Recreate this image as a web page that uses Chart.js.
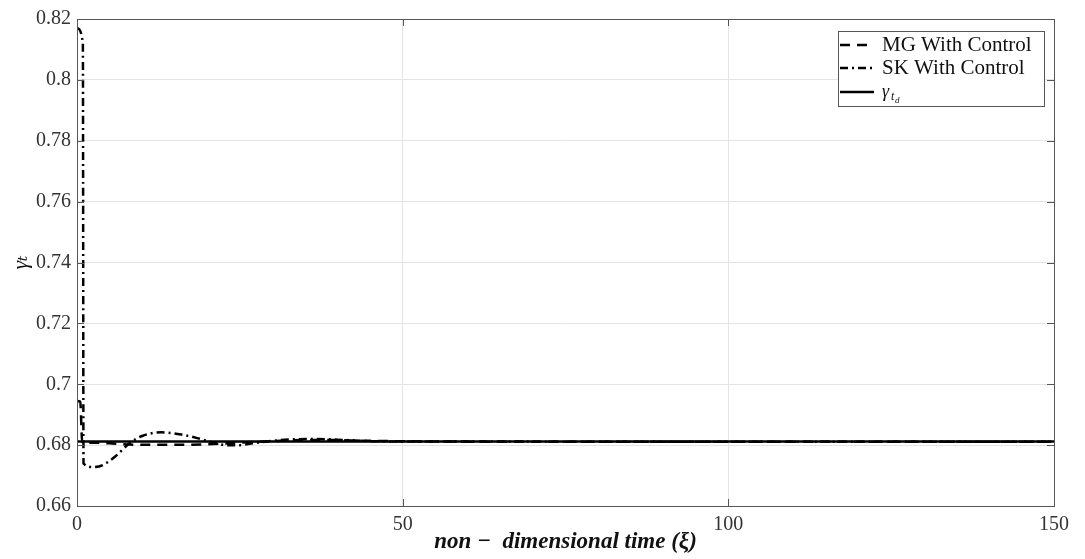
<!DOCTYPE html>
<html>
<head>
<meta charset="utf-8">
<script src="https://cdn.jsdelivr.net/npm/chart.js@4.4.1/dist/chart.umd.min.js"></script>
<style>
  html, body { margin: 0; padding: 0; background: #fff; }
  #wrap { width: 1085px; height: 559px; }
</style>
</head>
<body>
<div id="wrap"><canvas id="gammaChart" width="1085" height="559"></canvas></div>
<script>
// time samples (xi) and gamma_t response for each controller
const timeSK  = [0, 0.9, 1.0, 2.5, 4, 6, 8, 10, 13, 16, 19, 21, 23, 25, 27, 30, 33, 37, 41, 45, 50, 60, 80, 150];
const gammaSK = [0.817, 0.812, 0.674, 0.6728, 0.6735, 0.6765, 0.6805, 0.6830, 0.6842, 0.6835, 0.6820, 0.6808, 0.6800, 0.6800, 0.6806, 0.6814, 0.6819, 0.6820, 0.6817, 0.6813, 0.6812, 0.6812, 0.6811, 0.6811];

const timeMG  = [0, 0.5, 0.8, 2, 5, 8, 12, 16, 20, 24, 28, 33, 38, 45, 55, 80, 150];
const gammaMG = [0.6945, 0.6943, 0.6810, 0.6808, 0.6806, 0.6802, 0.6801, 0.6801, 0.6803, 0.6807, 0.6811, 0.6816, 0.6817, 0.6814, 0.6812, 0.6811, 0.6811];

// desired value gamma_td
const timeTarget  = [0, 150];
const gammaTarget = [0.6812, 0.6812];

const xTicks = [0, 50, 100, 150];
const yTicks = [0.66, 0.68, 0.7, 0.72, 0.74, 0.76, 0.78, 0.8, 0.82];

const serif = '"Liberation Serif", "DejaVu Serif", serif';

function toPoints(xs, ys) {
    return xs.map((x, i) => ({ x: x, y: ys[i] }));
}

// full axes box with inward ticks
const boxPlugin = {
    id: 'axesBox',
    afterDatasetsDraw(chart) {
        const { ctx, chartArea: a, scales } = chart;
        ctx.save();
        ctx.strokeStyle = '#555';
        ctx.lineWidth = 1;
        ctx.strokeRect(a.left + 0.5, a.top + 0.5, a.right - a.left, a.bottom - a.top);
        const len = 7;
        ctx.beginPath();
        xTicks.forEach(v => {
            const px = Math.round(scales.x.getPixelForValue(v)) + 0.5;
            ctx.moveTo(px, a.bottom); ctx.lineTo(px, a.bottom - len);
            ctx.moveTo(px, a.top); ctx.lineTo(px, a.top + len);
        });
        yTicks.forEach(v => {
            const py = Math.round(scales.y.getPixelForValue(v)) + 0.5;
            ctx.moveTo(a.left, py); ctx.lineTo(a.left + len, py);
            ctx.moveTo(a.right, py); ctx.lineTo(a.right - len, py);
        });
        ctx.stroke();
        ctx.restore();
    }
};

// legend drawn inside the axes, top right corner
const boxLegend = {
    id: 'boxLegend',
    afterDraw(chart) {
        const { ctx, chartArea: a } = chart;
        const w = 206, h = 75;
        const x0 = a.right - 10 - w, y0 = a.top + 12;
        ctx.save();
        ctx.fillStyle = '#fff';
        ctx.fillRect(x0, y0, w, h);
        ctx.strokeStyle = '#555';
        ctx.lineWidth = 1;
        ctx.strokeRect(x0 + 0.5, y0 + 0.5, w, h);
        const rows = [y0 + 14, y0 + 37, y0 + 61];
        chart.data.datasets.forEach((ds, i) => {
            const y = rows[i];
            ctx.strokeStyle = '#000';
            ctx.lineWidth = 2.5;
            ctx.setLineDash(ds.borderDash || []);
            ctx.beginPath();
            ctx.moveTo(x0 + 2, y);
            ctx.lineTo(x0 + 36, y);
            ctx.stroke();
            ctx.setLineDash([]);
            ctx.fillStyle = '#111';
            ctx.textBaseline = 'middle';
            if (ds.label === 'γtd') {
                ctx.font = 'italic 18px ' + serif;
                ctx.fillText('γ', x0 + 44, y);
                ctx.font = 'italic 12px ' + serif;
                ctx.fillText('t', x0 + 53, y + 5);
                ctx.font = 'italic 9px ' + serif;
                ctx.fillText('d', x0 + 57, y + 9);
            } else {
                ctx.font = '21px ' + serif;
                ctx.fillText(ds.label, x0 + 44, y);
            }
        });
        ctx.restore();
    }
};

const gammaData = {
    datasets: [{
        label: 'MG With Control',
        data: toPoints(timeMG, gammaMG),
        borderColor: '#000',
        borderWidth: 2.5,
        borderDash: [10, 7],
        pointRadius: 0,
        cubicInterpolationMode: 'monotone',
        order: 2
    }, {
        label: 'SK With Control',
        data: toPoints(timeSK, gammaSK),
        borderColor: '#000',
        borderWidth: 2.5,
        borderDash: [8, 4, 2, 4],
        pointRadius: 0,
        cubicInterpolationMode: 'monotone',
        order: 3
    }, {
        label: 'γtd',
        data: toPoints(timeTarget, gammaTarget),
        borderColor: '#000',
        borderWidth: 2.5,
        pointRadius: 0,
        order: 1
    }]
};

const gammaConfig = {
    type: 'line',
    data: gammaData,
    options: {
        responsive: false,
        animation: false,
        layout: { padding: { left: 0, top: 19, right: 31, bottom: 0 } },
        plugins: { legend: { display: false }, tooltip: { enabled: false } },
        scales: {
            x: {
                type: 'linear',
                min: 0,
                max: 150,
                afterBuildTicks: s => { s.ticks = xTicks.map(v => ({ value: v })); },
                afterFit: s => { s.height = 53; },
                grid: { color: '#e4e4e4', drawTicks: false },
                border: { display: false },
                ticks: { color: '#333', padding: 7, font: { family: serif, size: 20 } },
                title: {
                    display: true,
                    text: 'non −  dimensional time (ξ)',
                    color: '#111',
                    padding: { top: 0, bottom: 3 },
                    font: { family: serif, size: 23, style: 'italic', weight: 'bold' }
                }
            },
            y: {
                min: 0.66,
                max: 0.82,
                afterBuildTicks: s => { s.ticks = yTicks.map(v => ({ value: v })); },
                afterFit: s => { s.width = 77; },
                grid: { color: '#e4e4e4', drawTicks: false },
                border: { display: false },
                ticks: {
                    color: '#333',
                    padding: 6,
                    font: { family: serif, size: 20 },
                    callback: v => String(Number(v.toFixed(2)))
                },
                title: {
                    display: true,
                    text: 'γₜ',
                    color: '#111',
                    padding: { top: 8, bottom: 0 },
                    font: { family: serif, size: 22, style: 'italic' }
                }
            }
        }
    },
    plugins: [boxPlugin, boxLegend]
};

window.onload = function() {
    const ctx = document.getElementById('gammaChart').getContext('2d');
    new Chart(ctx, gammaConfig);
};
</script>
</body>
</html>
